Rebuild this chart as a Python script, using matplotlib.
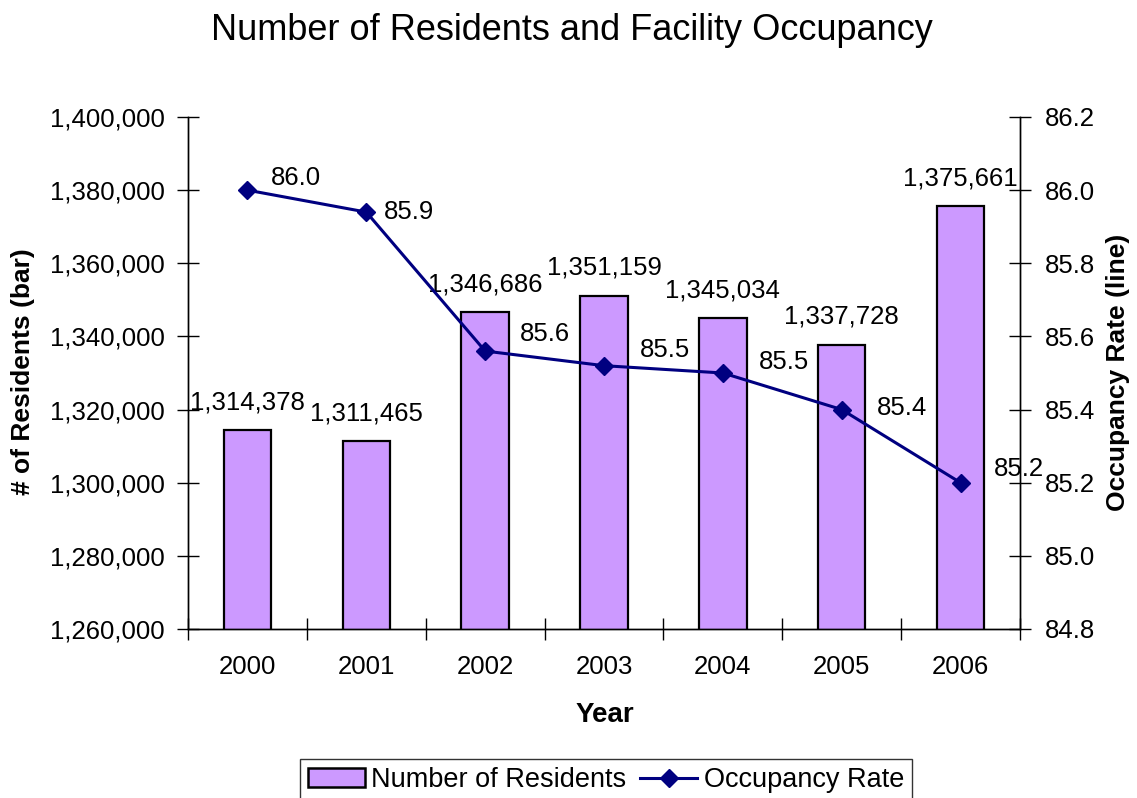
import matplotlib
matplotlib.use("Agg")
import matplotlib.pyplot as plt
from matplotlib.patches import Patch
from matplotlib.lines import Line2D
from matplotlib.ticker import FuncFormatter, FixedLocator
import numpy as np

plt.rcParams['font.family'] = ['Liberation Sans', 'DejaVu Sans']

years = ["2000", "2001", "2002", "2003", "2004", "2005", "2006"]
residents = [1314378, 1311465, 1346686, 1351159, 1345034, 1337728, 1375661]
occupancy = [86.0, 85.94, 85.56, 85.52, 85.50, 85.40, 85.20]
occupancy_labels = ["86.0", "85.9", "85.6", "85.5", "85.5", "85.4", "85.2"]

# label offsets for line labels (points)
line_label_offsets = [(17, 9), (13, 0), (25, 12), (26, 11), (26, 8), (25, 1), (24, 10)]

BAR_COLOR = "#CC99FF"
LINE_COLOR = "#000080"
W, H = 1137, 798

fig = plt.figure(figsize=(W / 100, H / 100), dpi=100)
ax = fig.add_axes([188 / W, 1 - 629 / H, (1020 - 188) / W, (629 - 117) / H])
ax2 = ax.twinx()

x = np.arange(len(years))
ax.bar(x, residents, width=0.40, color=BAR_COLOR, edgecolor="black", linewidth=1.6, zorder=2)
ax.set_ylim(1260000, 1400000)
ax.set_xlim(-0.5, len(years) - 0.5)
ax.yaxis.set_major_locator(FixedLocator(np.arange(1260000, 1400001, 20000)))
ax.yaxis.set_major_formatter(FuncFormatter(lambda v, p: f"{int(v):,}"))

for xi, v in zip(x, residents):
    ax.annotate(f"{v:,}", (xi, v), xytext=(0, 20), textcoords="offset points",
                ha="center", va="center", fontsize=18.5)

ax2.plot(x, occupancy, color=LINE_COLOR, linewidth=2.2, marker="D", markersize=9,
         markerfacecolor=LINE_COLOR, markeredgecolor=LINE_COLOR, zorder=3)
ax2.set_ylim(84.8, 86.2)
ax2.yaxis.set_major_locator(FixedLocator(np.round(np.arange(84.8, 86.21, 0.2), 1)))
ax2.yaxis.set_major_formatter(FuncFormatter(lambda v, p: f"{v:.1f}"))

for xi, v, lab, off in zip(x, occupancy, occupancy_labels, line_label_offsets):
    ax2.annotate(lab, (xi, v), xytext=off, textcoords="offset points",
                 ha="left", va="center", fontsize=18.5)

# ticks
ax.set_xticks(x)
ax.set_xticklabels(years, fontsize=18.5)
ax.tick_params(axis="x", which="major", length=0, pad=19)
ax.set_xticks(np.arange(-0.5, len(years), 1.0), minor=True)
ax.tick_params(axis="x", which="minor", direction="inout", length=16, width=1)
ax.tick_params(axis="y", direction="inout", length=16, width=1, labelsize=18.5, pad=9)
ax2.tick_params(axis="y", direction="inout", length=16, width=1, labelsize=18.5, pad=10)

for a in (ax, ax2):
    a.spines["top"].set_visible(False)
    for s in ("left", "right", "bottom"):
        a.spines[s].set_linewidth(1)
        a.spines[s].set_color("black")

fig.text(605 / W, 1 - 722 / H, "Year", fontsize=20, fontweight="bold",
         ha="center", va="baseline")
fig.text(23 / W, 1 - 372 / H, "# of Residents (bar)", fontsize=19, fontweight="bold",
         ha="center", va="center", rotation=90)
fig.text(1118 / W, 1 - 372 / H, "Occupancy Rate (line)", fontsize=19, fontweight="bold",
         ha="center", va="center", rotation=90)
fig.text(572 / W, 1 - 40 / H, "Number of Residents and Facility Occupancy", fontsize=26,
         ha="center", va="baseline")

handles = [Patch(facecolor=BAR_COLOR, edgecolor="black", linewidth=1.8),
           Line2D([0], [0], color=LINE_COLOR, linewidth=2.2, marker="D", markersize=9)]
leg = fig.legend(handles, ["Number of Residents", "Occupancy Rate"], loc="upper center",
                 bbox_to_anchor=(606 / W, 1 - 759 / H), ncol=2, fontsize=19.5, frameon=True,
                 fancybox=False, edgecolor="black", borderaxespad=0, columnspacing=0.5,
                 handletextpad=0.25, handlelength=2.1, borderpad=0.3)
leg.get_frame().set_linewidth(1)

fig.savefig("out.png", dpi=100)
